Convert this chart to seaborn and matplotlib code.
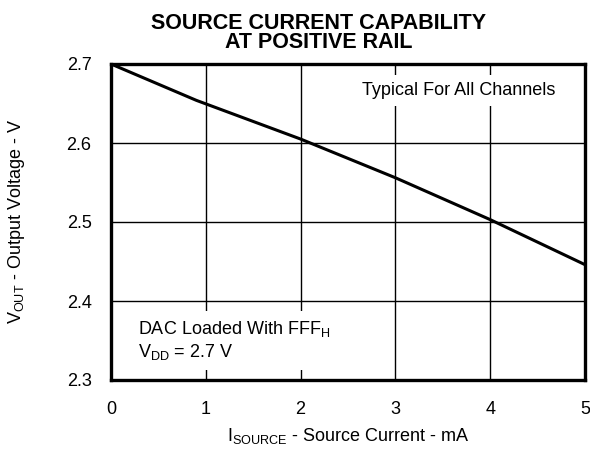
import matplotlib
matplotlib.use("Agg")
import matplotlib.pyplot as plt
import seaborn as sns
import pandas as pd

# Data
current_ma = [0.0, 0.9, 2.0, 3.0, 4.0, 5.0]
vout_v = [2.700, 2.654, 2.605, 2.556, 2.503, 2.446]
x_ticks = [0, 1, 2, 3, 4, 5]
y_ticks = [2.3, 2.4, 2.5, 2.6, 2.7]

sns.set_theme(style="white")
plt.rcParams['font.family'] = ['Liberation Sans', 'DejaVu Sans']
plt.rcParams['mathtext.fontset'] = 'custom'
plt.rcParams['mathtext.rm'] = 'Liberation Sans'
plt.rcParams['text.color'] = 'black'
plt.rcParams['axes.labelcolor'] = 'black'

df = pd.DataFrame({"I": current_ma, "V": vout_v})

fig = plt.figure(figsize=(5.9, 4.49), dpi=100)
L, R, T, B = 111, 585, 64, 380
ax = fig.add_axes([L/590, 1-B/449, (R-L)/590, (B-T)/449])

sns.lineplot(data=df, x="I", y="V", ax=ax, color="black", linewidth=2.2, zorder=5)

ax.set_xlim(0, 5)
ax.set_ylim(2.3, 2.7)
ax.set_xticks(x_ticks)
ax.set_yticks(y_ticks)
ax.set_xticklabels([str(t) for t in x_ticks])
ax.set_yticklabels([f"{t:.1f}" for t in y_ticks])
ax.tick_params(axis='both', length=0, labelsize=13, colors='black')
ax.tick_params(axis='x', pad=15)
ax.tick_params(axis='y', pad=14)
ax.grid(True, color='black', linewidth=1.0)
ax.set_axisbelow(True)
for s in ax.spines.values():
    s.set_color('black')
    s.set_linewidth(2.4)

ax.set_xlabel(r'$\mathregular{I_{SOURCE}}$ - Source Current - mA', fontsize=13, color='black')
ax.set_ylabel(r'$\mathregular{V_{OUT}}$ - Output Voltage - V', fontsize=13, color='black')
ax.xaxis.label.set_va('center')
ax.yaxis.label.set_va('center')
ax.xaxis.set_label_coords(0.5, (B-436)/(B-T))
ax.yaxis.set_label_coords((17-L)/(R-L), (B-221)/(B-T))

fig.text(319/590, 1-33/449, "SOURCE CURRENT CAPABILITY\nAT POSITIVE RAIL",
         ha='center', va='center', fontsize=15.5, fontweight='bold', linespacing=0.92,
         color='black')

ax.text(3.67, 2.666, "Typical For All Channels", ha='center', va='center', fontsize=13,
        bbox=dict(facecolor='white', edgecolor='none', pad=5), zorder=3)
ax.text(0.28, 2.35, "DAC Loaded With FFF$\\mathregular{_H}$\n$\\mathregular{V_{DD}}$ = 2.7 V",
        ha='left', va='center', fontsize=13, linespacing=1.15,
        bbox=dict(facecolor='white', edgecolor='none', pad=6), zorder=3)

fig.savefig("out.png", dpi=100)
